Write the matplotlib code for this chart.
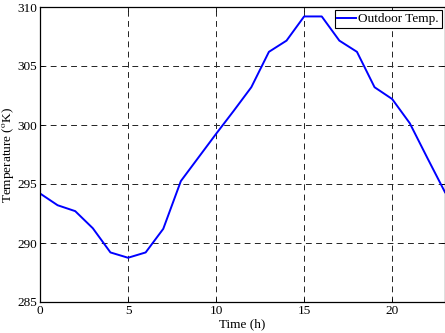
import matplotlib
matplotlib.use("Agg")
import matplotlib.pyplot as plt

hours = list(range(24))
temps = [294.2, 293.2, 292.7, 291.25, 289.2, 288.75, 289.2, 291.2, 295.25, 297.25,
         299.25, 301.2, 303.2, 306.2, 307.15, 309.2, 309.2, 307.15, 306.2, 303.2,
         302.2, 300.15, 297.2, 294.3]
xticks = [0, 5, 10, 15, 20]
yticks = [285, 290, 295, 300, 305, 310]

plt.rcParams['font.family'] = ['Liberation Serif', 'DejaVu Serif']
plt.rcParams['mathtext.fontset'] = 'stix'

fig = plt.figure(figsize=(4.45, 3.33), dpi=100)
ax = fig.add_axes([40/445, 31/333, 405/445, 295/333])
ax.plot(hours, temps, color='#0000ff', lw=1.4, label='Outdoor Temp.')
ax.set_xlim(0, 23)
ax.set_ylim(285, 310)
ax.set_xticks(xticks)
ax.set_yticks(yticks)
ax.tick_params(direction='in', length=3, width=0.6, labelsize=9.5, top=True, right=True, pad=2)
ax.grid(True, color='#222222', linestyle=(0, (6, 4.5)), linewidth=0.7)
for s in ax.spines.values():
    s.set_linewidth(0.9)
ax.set_xlabel('Time (h)', fontsize=9.5, labelpad=1)
ax.set_ylabel('Temperature ($^{\\mathrm{o}}$K)', fontsize=9.5, labelpad=1)
leg = ax.legend(loc='upper right', fontsize=9.5, frameon=True, fancybox=False,
                framealpha=1, edgecolor='black', handlelength=1.4, handletextpad=0.2,
                borderpad=0.2, borderaxespad=0.25)
leg.get_frame().set_linewidth(0.8)
fig.savefig('out.png', dpi=100)
